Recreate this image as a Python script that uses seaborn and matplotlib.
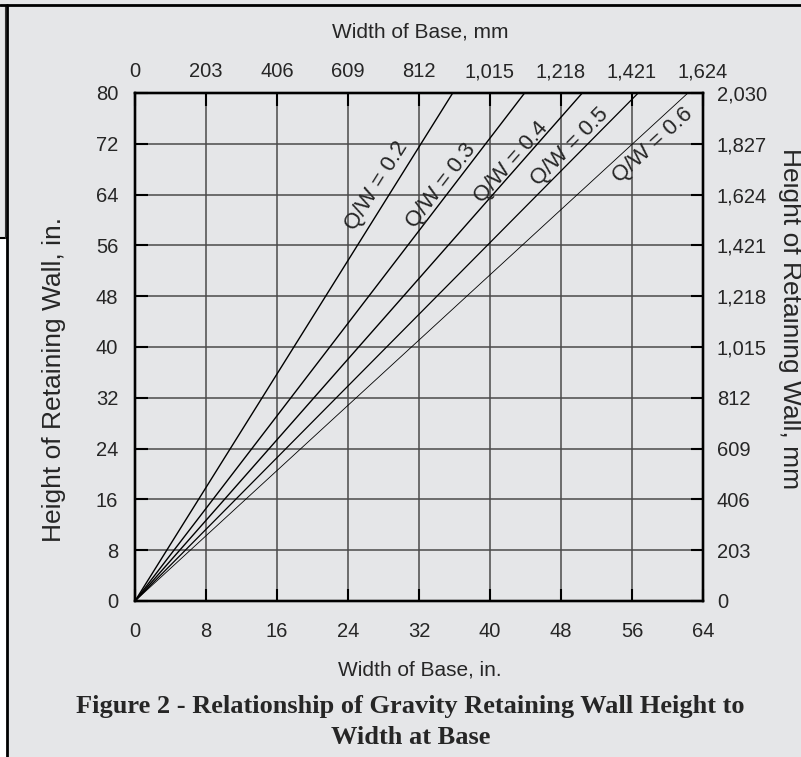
import numpy as np
import pandas as pd
import matplotlib.pyplot as plt
import matplotlib.lines as mlines
import matplotlib.patches as mpatches
import seaborn as sns

# Ширина основания (in) при высоте стенки 80 in для каждого Q/W
qw_ratios = ["0.2", "0.3", "0.4", "0.5", "0.6"]
base_at_top = [35.8, 43.9, 50.4, 56.7, 62.3]
top_height = 80

# Подписи осей в дюймах и в миллиметрах
inch_x_ticks = [0, 8, 16, 24, 32, 40, 48, 56, 64]
inch_y_ticks = [0, 8, 16, 24, 32, 40, 48, 56, 64, 72, 80]
mm_x_labels = ["0", "203", "406", "609", "812", "1,015", "1,218", "1,421", "1,624"]
mm_y_labels = ["0", "203", "406", "609", "812", "1,015", "1,218", "1,421", "1,624", "1,827", "2,030"]

# Положение подписей Q/W (центр текста, в координатах данных)
label_x = [27.2, 34.5, 42.4, 49.0, 58.3]
label_y = [65.4, 65.4, 69.1, 71.5, 71.7]
line_widths = [1.0, 1.0, 1.0, 0.9, 0.6]

BG = "#e5e6e8"
W, H = 801, 757

sns.set_theme(style="ticks")
plt.rcParams["font.family"] = ["Liberation Sans", "DejaVu Sans"]

fig = plt.figure(figsize=(W / 100, H / 100), dpi=100, facecolor=BG)
ax = fig.add_axes([135 / W, 1 - 601 / H, 568 / W, 508 / H])
ax.set_facecolor(BG)

# Линии из начала координат до верхней границы
rows = []
for qw, w in zip(qw_ratios, base_at_top):
    rows.append({"qw": qw, "width": 0.0, "height": 0.0})
    rows.append({"qw": qw, "width": w, "height": float(top_height)})
df = pd.DataFrame(rows)

for qw, lw in zip(qw_ratios, line_widths):
    sns.lineplot(data=df[df["qw"] == qw], x="width", y="height", ax=ax,
                 color="black", linewidth=lw, legend=False, zorder=3)

for qw, w, lx, ly in zip(qw_ratios, base_at_top, label_x, label_y):
    ang = np.degrees(np.arctan2(top_height, w))
    ax.text(lx, ly, f"Q/W = {qw}", rotation=ang, transform_rotates_text=True,
            rotation_mode="anchor", ha="center", va="center", fontsize=16, zorder=4)

ax.set_xlim(0, 64)
ax.set_ylim(0, 80)
ax.set_xticks(inch_x_ticks)
ax.set_yticks(inch_y_ticks)
ax.grid(True, color="#4a4a4a", linewidth=1.1)
ax.set_axisbelow(True)
ax.set_xlabel("")
ax.set_ylabel("")
ax.tick_params(axis="x", direction="in", length=9, width=1.5, color="black",
               labelsize=14.5, pad=15)
ax.tick_params(axis="y", direction="in", length=9, width=1.5, color="black",
               labelsize=14.5, pad=12)
for s in ax.spines.values():
    s.set_linewidth(1.6)
    s.set_color("black")

# Верхняя ось (мм)
axt = ax.twiny()
axt.set_xlim(0, 64)
axt.set_xticks(inch_x_ticks)
axt.set_xticklabels(mm_x_labels)
axt.tick_params(axis="x", direction="in", length=9, width=1.5, color="black",
                labelsize=14.5, pad=8.5)

# Правая ось (мм)
axr = ax.twinx()
axr.set_ylim(0, 80)
axr.set_yticks(inch_y_ticks)
axr.set_yticklabels(mm_y_labels)
axr.tick_params(axis="y", direction="in", length=9, width=1.5, color="black",
                labelsize=14.5, pad=10)
for a in (axt, axr):
    for s in a.spines.values():
        s.set_linewidth(1.6)
        s.set_color("black")

fig.text(420 / W, 1 - 32 / H, "Width of Base, mm", ha="center", va="center", fontsize=15)
fig.text(420 / W, 1 - 670 / H, "Width of Base, in.", ha="center", va="center", fontsize=15)
fig.text(54 / W, 1 - 380 / H, "Height of Retaining Wall, in.", rotation=90,
         ha="center", va="center", fontsize=19)
fig.text(790 / W, 1 - 319 / H, "Height of Retaining Wall, mm", rotation=-90,
         ha="center", va="center", fontsize=19)

fig.text(410 / W, 1 - 707 / H, "Figure 2 - Relationship of Gravity Retaining Wall Height to",
         ha="center", va="center", fontsize=19, fontweight="bold",
         family=["Liberation Serif", "DejaVu Serif"])
fig.text(411 / W, 1 - 738 / H, "Width at Base",
         ha="center", va="center", fontsize=19, fontweight="bold",
         family=["Liberation Serif", "DejaVu Serif"])

# Рамка страницы
fig.add_artist(mpatches.Rectangle((0, 0), 6.5 / W, 1 - 238 / H, transform=fig.transFigure,
                                  facecolor="white", edgecolor="none"))
fig.add_artist(mlines.Line2D([0, 7 / W], [1 - 238 / H, 1 - 238 / H], transform=fig.transFigure,
                             color="black", linewidth=1.5))
fig.add_artist(mlines.Line2D([4.5 / W, 4.5 / W], [1 - 238 / H, 1 - 5 / H], transform=fig.transFigure,
                             color="#333333", linewidth=0.8))
fig.add_artist(mlines.Line2D([7 / W, 7 / W], [0, 1 - 5 / H], transform=fig.transFigure,
                             color="black", linewidth=2.0))
fig.add_artist(mlines.Line2D([0, 1], [1 - 5 / H, 1 - 5 / H], transform=fig.transFigure,
                             color="black", linewidth=2.0))

fig.savefig("out.png", dpi=100, facecolor=BG)
